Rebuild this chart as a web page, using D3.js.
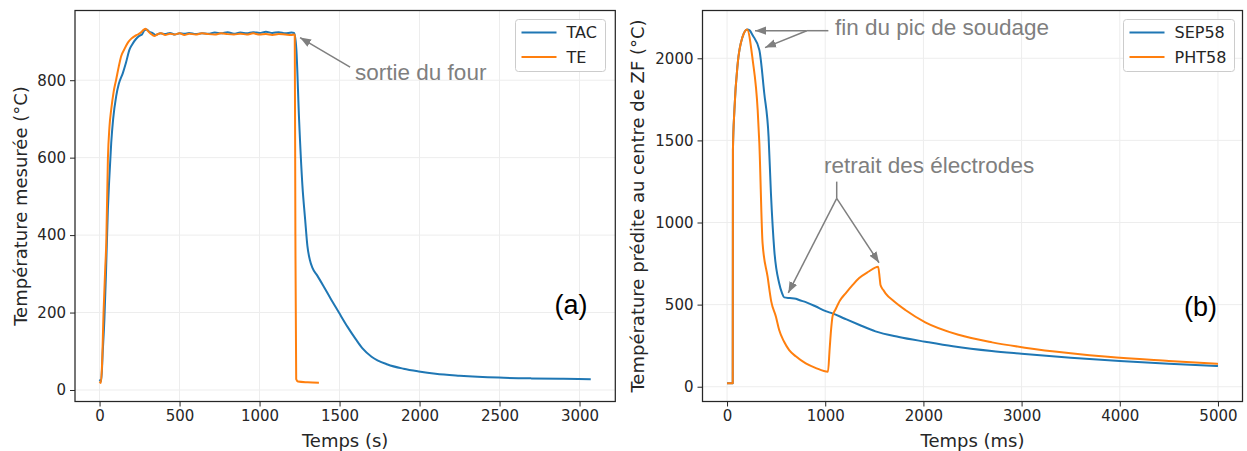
<!DOCTYPE html>
<html><head><meta charset="utf-8">
<script src="https://cdn.jsdelivr.net/npm/d3@7/dist/d3.min.js"></script>
<style>
body{margin:0;background:#fff;}
svg{display:block;}
text{font-family:"DejaVu Sans",sans-serif;}
</style></head>
<body>
<svg id="c" width="1247" height="451"></svg>
<script>
// ---------- Data (a) ----------
const tacTime = [0, 10, 20, 30, 40, 52, 60, 73, 85, 104, 120, 146, 165, 187, 205, 229, 250, 265, 281, 295, 310, 330, 350, 380, 410, 440, 470, 500, 530, 560, 600, 640, 680, 720, 760, 800, 840, 880, 920, 960, 1000, 1040, 1080, 1120, 1160, 1200, 1216, 1230, 1247, 1268, 1285, 1299, 1315, 1330, 1360, 1400, 1450, 1496, 1550, 1600, 1642, 1700, 1800, 1900, 1995, 2100, 2250, 2494, 2700, 2900, 3070];
const tacTemp = [27, 22, 100, 180, 300, 466, 540, 639, 700, 759, 790, 819, 845, 879, 893, 907, 915, 918, 929, 931, 925, 922, 917, 921, 919, 922, 918, 921, 920, 922, 919, 921, 920, 923, 921, 924, 920, 923, 921, 924, 922, 925, 922, 924, 921, 923, 922, 880, 699, 527, 440, 372, 335, 316, 296, 268, 232, 200, 163, 132, 108, 86, 66, 55, 48, 42, 37, 32, 30, 29, 28];
const teTime = [0, 8, 15, 25, 35, 42, 52, 62, 73, 88, 104, 120, 135, 155, 177, 200, 220, 239, 260, 275, 287, 300, 320, 343, 360, 385, 410, 440, 470, 500, 530, 560, 600, 640, 680, 720, 760, 800, 840, 880, 920, 960, 1000, 1040, 1080, 1120, 1160, 1200, 1215, 1220, 1224, 1229, 1240, 1300, 1371];
const teTemp = [22, 18, 60, 200, 310, 380, 595, 680, 725, 770, 802, 835, 862, 880, 897, 908, 914, 918, 924, 930, 933, 928, 920, 914, 918, 921, 917, 920, 918, 921, 917, 920, 918, 921, 919, 918, 921, 919, 918, 920, 918, 921, 918, 919, 917, 919, 918, 917, 918, 916, 400, 28, 22, 20, 19];

// ---------- Data (b) ----------
const sepTime = [0, 58, 60, 75, 109, 159, 204, 230, 261, 329, 379, 423, 447, 481, 531, 560, 582, 640, 701, 734, 802, 900, 1005, 1072, 1200, 1350, 1512, 1750, 2019, 2300, 2695, 3000, 3500, 4000, 4500, 5000];
const sepTemp = [21, 21, 1441, 1685, 1970, 2132, 2176, 2170, 2140, 2050, 1787, 1523, 1178, 832, 630, 570, 544, 540, 536, 528, 515, 490, 460, 447, 414, 376, 337, 303, 274, 246, 217, 201, 177, 157, 140, 126];
const phtTime = [0, 58, 60, 75, 109, 159, 204, 261, 312, 329, 362, 413, 450, 498, 531, 580, 633, 700, 802, 900, 1028, 1045, 1060, 1075, 1106, 1150, 1208, 1280, 1343, 1440, 1539, 1555, 1563, 1590, 1614, 1700, 1816, 2019, 2357, 2700, 3033, 3500, 3878, 4500, 5000];
const phtTemp = [21, 21, 1441, 1685, 1970, 2132, 2176, 1990, 1685, 1482, 873, 670, 520, 426, 345, 275, 223, 185, 142, 115, 91, 230, 350, 430, 472, 525, 569, 620, 660, 700, 731, 660, 619, 590, 569, 520, 467, 392, 316, 270, 238, 204, 182, 157, 139];

// ---------- Ticks / labels ----------
const xTicksA = [0, 500, 1000, 1500, 2000, 2500, 3000];
const yTicksA = [0, 200, 400, 600, 800];
const xTicksB = [0, 1000, 2000, 3000, 4000, 5000];
const yTicksB = [0, 500, 1000, 1500, 2000];
const seriesNamesA = ["TAC", "TE"];
const seriesNamesB = ["SEP58", "PHT58"];
const colors = ["#1f77b4", "#ff7f0e"];

const svg = d3.select("#c");
const annColor = "#7f7f7f";
const annFont = '"Liberation Sans", Arial, sans-serif';

const defs = svg.append("defs");
defs.append("marker").attr("id","ah").attr("viewBox","0 0 10 10").attr("refX",10).attr("refY",5)
  .attr("markerWidth",11).attr("markerHeight",11).attr("markerUnits","userSpaceOnUse").attr("orient","auto")
  .append("path").attr("d","M0,1.2 L10,5 L0,8.8 Z").attr("fill",annColor);

function panel(cfg){
  const x = d3.scaleLinear().domain(cfg.xd).range([cfg.x0, cfg.x1]);
  const y = d3.scaleLinear().domain(cfg.yd).range([401.5, 10.5]);
  const g = svg.append("g");
  g.append("g").selectAll("line").data(cfg.xt).join("line")
    .attr("x1", d=>x(d)).attr("x2", d=>x(d)).attr("y1",10.5).attr("y2",401.5)
    .attr("stroke","#ededed").attr("stroke-width",1);
  g.append("g").selectAll("line").data(cfg.yt).join("line")
    .attr("y1", d=>y(d)).attr("y2", d=>y(d)).attr("x1",cfg.x0).attr("x2",cfg.x1)
    .attr("stroke","#ededed").attr("stroke-width",1);
  const xa = g.append("g").attr("transform",`translate(0,401.5)`)
    .call(d3.axisBottom(x).tickValues(cfg.xt).tickFormat(d3.format("d")).tickSize(5).tickSizeOuter(0).tickPadding(4));
  const ya = g.append("g").attr("transform",`translate(${cfg.x0},0)`)
    .call(d3.axisLeft(y).tickValues(cfg.yt).tickFormat(d3.format("d")).tickSize(5).tickSizeOuter(0).tickPadding(4));
  [xa, ya].forEach(a=>{
    a.select(".domain").remove();
    a.selectAll(".tick line").attr("stroke","#262626").attr("stroke-width",1);
    a.selectAll(".tick text").attr("fill","#262626").style("font-size","15px").style("font-family",'"DejaVu Sans",sans-serif');
  });
  const line = d3.line().curve(d3.curveMonotoneX).x(d=>x(d[0])).y(d=>y(d[1]));
  cfg.series.forEach((s,i)=>{
    g.append("path").datum(d3.zip(s.t, s.v)).attr("d", line)
      .attr("fill","none").attr("stroke",colors[i]).attr("stroke-width",2).attr("stroke-linejoin","round");
  });
  g.append("rect").attr("x",cfg.x0).attr("y",10.5).attr("width",cfg.x1-cfg.x0).attr("height",391)
    .attr("fill","none").attr("stroke","#262626").attr("stroke-width",1.25);
  g.append("text").attr("x",(cfg.x0+cfg.x1)/2).attr("y",440).attr("text-anchor","middle").attr("dominant-baseline","central")
    .attr("fill","#262626").style("font-size","18px").text(cfg.xl);
  g.append("text").attr("transform",`translate(${cfg.ylx},${(10.5+401.5)/2}) rotate(-90)`).attr("text-anchor","middle").attr("dominant-baseline","central")
    .attr("fill","#262626").style("font-size","18px").text(cfg.yl);
  const L = cfg.legend;
  g.append("rect").attr("x",L.x).attr("y",19.5).attr("width",L.w).attr("height",52).attr("rx",3)
    .attr("fill","#fff").attr("fill-opacity",0.85).attr("stroke","#cccccc").attr("stroke-width",1);
  cfg.names.forEach((n,i)=>{
    const yy = 32.5 + i*24.5;
    g.append("line").attr("x1",L.x+6).attr("x2",L.x+41).attr("y1",yy).attr("y2",yy).attr("stroke",colors[i]).attr("stroke-width",2.2);
    g.append("text").attr("x",L.x+51).attr("y",yy).attr("dominant-baseline","central").attr("fill","#262626")
      .style("font-size","16px").text(n);
  });
  g.append("text").attr("x",x(cfg.tag[0])).attr("y",y(cfg.tag[1])).attr("text-anchor","middle").attr("dominant-baseline","central")
    .attr("fill","#000").style("font-family",annFont).style("font-size","27px").text(cfg.tag[2]);
  return {x,y,g};
}

function arrow(g, x, y, from, to){
  g.append("line").attr("x1",x(from[0])).attr("y1",y(from[1])).attr("x2",x(to[0])).attr("y2",y(to[1]))
    .attr("stroke",annColor).attr("stroke-width",1.5).attr("marker-end","url(#ah)");
}
function seg(g, x, y, from, to){
  g.append("line").attr("x1",x(from[0])).attr("y1",y(from[1])).attr("x2",x(to[0])).attr("y2",y(to[1]))
    .attr("stroke",annColor).attr("stroke-width",1.5);
}
function annText(g, x, y, pos, txt){
  g.append("text").attr("x",x(pos[0])).attr("y",y(pos[1])).attr("fill",annColor)
    .style("font-family",annFont).style("font-size","22.5px").text(txt);
}

const A = panel({
  x0:75, x1:615.3, xd:[-153.5, 3223.5], yd:[-29.7, 980],
  xt:xTicksA, yt:yTicksA, xl:"Temps (s)", yl:"Température mesurée (°C)", ylx:20,
  series:[{t:tacTime, v:tacTemp},{t:teTime, v:teTemp}], names:seriesNamesA,
  legend:{x:515.5, w:90}, tag:[2946, 219, "(a)"]
});
arrow(A.g, A.x, A.y, [1566, 834], [1253, 910]);
annText(A.g, A.x, A.y, [1597, 800], "sortie du four");

const B = panel({
  x0:702.5, x1:1242.5, xd:[-250, 5250], yd:[-90, 2291],
  xt:xTicksB, yt:yTicksB, xl:"Temps (ms)", yl:"Température prédite au centre de ZF (°C)", ylx:637,
  series:[{t:sepTime, v:sepTemp},{t:phtTime, v:phtTemp}], names:seriesNamesB,
  legend:{x:1123.5, w:111}, tag:[4822, 487, "(b)"]
});
seg(B.g, B.x, B.y, [1032, 2168], [812, 2168]);
arrow(B.g, B.x, B.y, [812, 2168], [285, 2168]);
arrow(B.g, B.x, B.y, [812, 2168], [387, 2065]);
annText(B.g, B.x, B.y, [1100, 2142], "fin du pic de soudage");
seg(B.g, B.x, B.y, [1117, 1249], [1117, 1147]);
arrow(B.g, B.x, B.y, [1117, 1147], [624, 572]);
arrow(B.g, B.x, B.y, [1117, 1147], [1548, 755]);
annText(B.g, B.x, B.y, [988, 1301], "retrait des électrodes");
</script>
</body></html>
